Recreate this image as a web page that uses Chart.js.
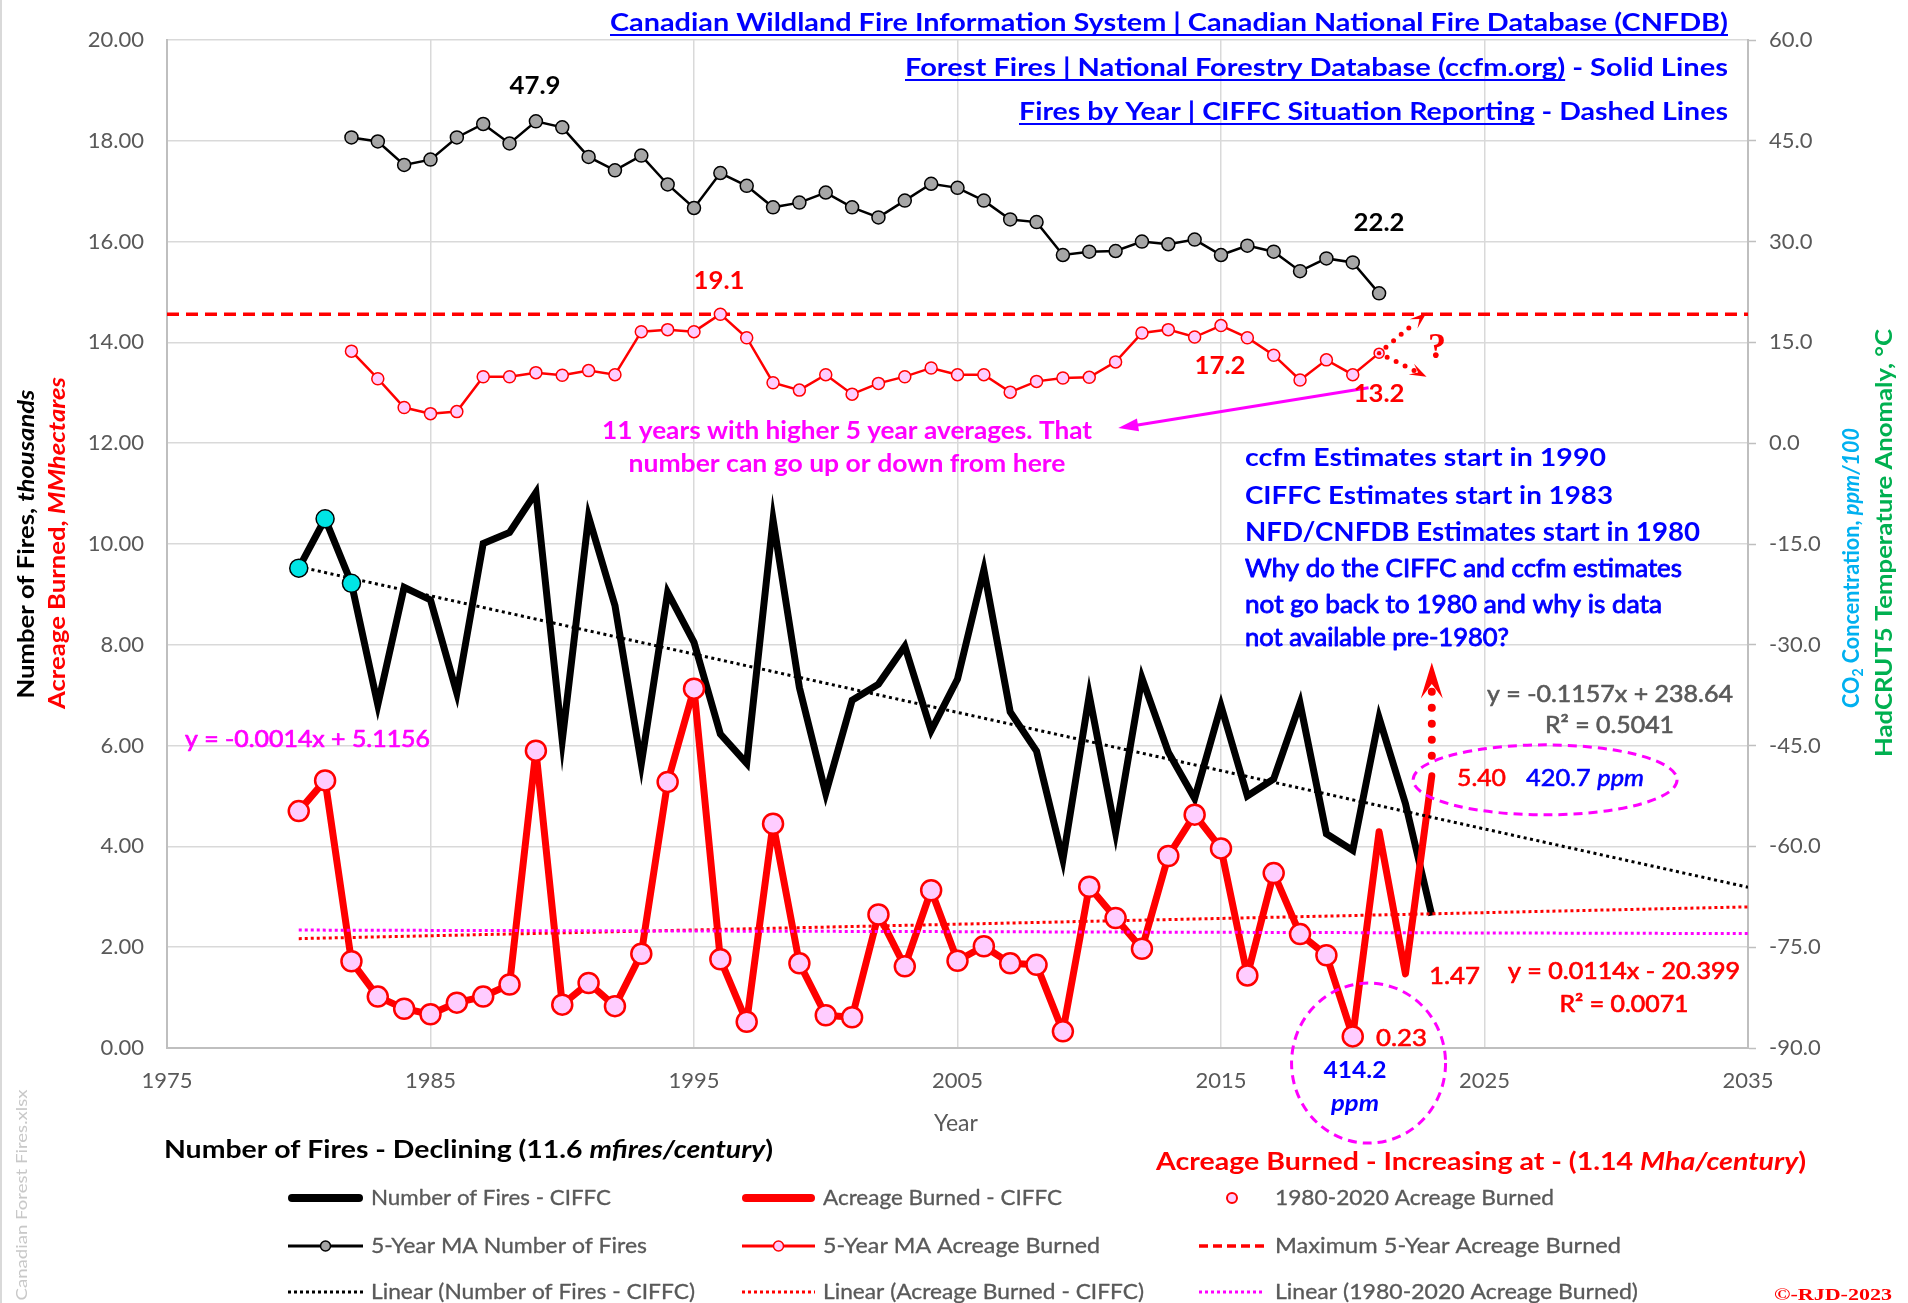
<!DOCTYPE html>
<html><head><meta charset="utf-8">
<script src="https://cdn.jsdelivr.net/npm/chart.js@4.4.0/dist/chart.umd.min.js"></script>
<style>html,body{margin:0;padding:0;background:#fff;overflow:hidden}canvas{display:block}</style>
</head><body>
<canvas id="c" width="1908" height="1303"></canvas>
<script>
// ---------------- DATA ----------------
const years = [1980,1981,1982,1983,1984,1985,1986,1987,1988,1989,1990,1991,1992,1993,1994,1995,1996,1997,1998,1999,2000,2001,2002,2003,2004,2005,2006,2007,2008,2009,2010,2011,2012,2013,2014,2015,2016,2017,2018,2019,2020,2021,2022,2023];
const firesCIFFC = [9.52,10.50,9.22,6.81,9.14,8.89,7.04,10.01,10.23,11.02,6.10,10.54,8.78,5.64,9.04,8.05,6.23,5.65,10.48,7.15,5.05,6.90,7.22,7.97,6.30,7.32,9.49,6.67,5.89,3.74,7.00,4.28,7.34,5.87,4.95,6.79,5.00,5.34,6.84,4.25,3.92,6.55,4.85,2.63];
const acreageCIFFC = [4.70,5.31,1.72,1.02,0.78,0.67,0.90,1.02,1.26,5.90,0.86,1.29,0.83,1.87,5.28,7.13,1.76,0.52,4.45,1.68,0.65,0.61,2.65,1.62,3.13,1.73,2.02,1.68,1.65,0.33,3.20,2.58,1.97,3.81,4.63,3.96,1.44,3.47,2.26,1.84,0.23,4.29,1.47,5.40];
const markerCount = 41; // 1980-2020 Acreage Burned markers
const maYears = [1982,1983,1984,1985,1986,1987,1988,1989,1990,1991,1992,1993,1994,1995,1996,1997,1998,1999,2000,2001,2002,2003,2004,2005,2006,2007,2008,2009,2010,2011,2012,2013,2014,2015,2016,2017,2018,2019,2020,2021];
const maFires = [45.5,44.9,41.4,42.2,45.5,47.5,44.6,47.9,47.0,42.6,40.6,42.8,38.5,35.0,40.2,38.3,35.1,35.8,37.3,35.1,33.6,36.1,38.6,38.0,36.1,33.3,32.9,28.0,28.5,28.6,30.0,29.6,30.3,28.0,29.4,28.5,25.6,27.5,26.9,22.3];
const maAcreage = [13.7,9.6,5.3,4.4,4.7,9.9,9.9,10.5,10.1,10.8,10.2,16.6,16.9,16.6,19.2,15.7,9.0,7.9,10.2,7.3,8.9,9.9,11.2,10.2,10.2,7.6,9.2,9.7,9.8,12.1,16.4,16.9,15.8,17.5,15.7,13.1,9.4,12.4,10.2,13.4];
const maxFiveYearYears = [1975, 2035];
const maxFiveYear = [19.2, 19.2];
const cyanYears = [1980,1981,1982];
const cyanValues = [9.52,10.50,9.22];
const trendYears = [1980, 2035];
const trendFires = [9.55, 3.19];
const trendAcreage = [2.17, 2.80];
const trend19802020 = [2.34, 2.27];
const xTickValues = [1975,1985,1995,2005,2015,2025,2035];
const leftTickValues = [0,2,4,6,8,10,12,14,16,18,20];
const rightTickValues = [-90,-75,-60,-45,-30,-15,0,15,30,45,60];

// annotation anchors in data coordinates
const redArrows = [
  {x1:2021, y1:13.4, x2:2022.8, y2:19.4, axis:'y2'},
  {x1:2021, y1:13.4, x2:2022.8, y2:9.9, axis:'y2'},
  {x1:2023, y1:5.4, x2:2023, y2:7.65, axis:'y'}
];
const magentaArrow = {x1:2020.6, y1:13.1, x2:2011.1, y2:12.3, axis:'y'};
const ellipses = [{x:2027.3, y:5.32}, {x:2020.6, y:-0.3}];

// ---------------- STYLE ----------------
const RED='#FF0000', PINK='#FFCCFF', MAG='#FF00FF', BLUE='#0000FF', GRAYT='#595959', GRID='#D9D9D9', AXIS='#BFBFBF';
const F = 'Lato, "Open Sans", sans-serif';
const xy = (xs, ys) => xs.map((x,i)=>({x, y: ys[i]}));

function runs(ctx, parts, x, y, opt={}) {
  ctx.save();
  const widths = parts.map(p=>{ctx.font=p[1]; return ctx.measureText(p[0]).width;});
  const total = widths.reduce((a,b)=>a+b,0);
  const s = opt.w ? opt.w/total : 1;
  const W = total*s;
  const x0 = opt.align==='right' ? -W : opt.align==='center' ? -W/2 : 0;
  ctx.translate(x, y);
  if (opt.rot) ctx.rotate(opt.rot);
  ctx.translate(x0, 0);
  ctx.scale(s, 1);
  ctx.textBaseline='middle'; ctx.textAlign='left';
  let cx = 0;
  parts.forEach((p,i)=>{
    const o = p[3]||{};
    ctx.font=p[1]; ctx.fillStyle=p[2];
    ctx.fillText(p[0], cx, o.dy||0);
    if (opt.sw) { ctx.lineWidth=opt.sw; ctx.strokeStyle=p[2]; ctx.lineJoin='round'; ctx.strokeText(p[0], cx, o.dy||0); }
    if (o.u) ctx.fillRect(cx, opt.uy||11, widths[i], 2);
    cx += widths[i];
  });
  ctx.restore();
}
function head(ctx, x1,y1,x2,y2,len,wid,notch,color){
  const a=Math.atan2(y2-y1,x2-x1);
  ctx.save(); ctx.translate(x2,y2); ctx.rotate(a);
  ctx.beginPath(); ctx.moveTo(0,0); ctx.lineTo(-len,-wid/2); ctx.lineTo(-len*notch,0); ctx.lineTo(-len,wid/2); ctx.closePath();
  ctx.fillStyle=color; ctx.fill(); ctx.restore();
}
function seg(ctx,x1,y1,x2,y2,color,w,dash,cap){
  ctx.save(); ctx.beginPath(); ctx.strokeStyle=color; ctx.lineWidth=w; ctx.setLineDash(dash||[]); ctx.lineCap=cap||'butt';
  ctx.moveTo(x1,y1); ctx.lineTo(x2,y2); ctx.stroke(); ctx.restore();
}
function mk(ctx,x,y,r,fill,stroke,lw){
  ctx.save(); ctx.beginPath(); ctx.arc(x,y,r,0,Math.PI*2); ctx.fillStyle=fill; ctx.fill(); ctx.lineWidth=lw; ctx.strokeStyle=stroke; ctx.stroke(); ctx.restore();
}

const annot = {
  id:'annot',
  afterDatasetsDraw(chart){
    const ctx=chart.ctx, X=chart.scales.x;
    // red dotted arrows
    redArrows.forEach(a=>{
      const Y=chart.scales[a.axis];
      let x1=X.getPixelForValue(a.x1), y1=Y.getPixelForValue(a.y1), x2=X.getPixelForValue(a.x2), y2=Y.getPixelForValue(a.y2);
      const d=Math.hypot(x2-x1,y2-y1), ux=(x2-x1)/d, uy=(y2-y1)/d;
      const vertical = Math.abs(ux)<0.1;
      const hl = vertical?36:17, hw = vertical?22:12;
      if (vertical) seg(ctx, x1+ux*20, y1+uy*20, x2-ux*hl*0.75, y2-uy*hl*0.75, RED, 8, [0,16], 'round');
      else seg(ctx, x1+ux*9, y1+uy*9, x2-ux*hl*0.8, y2-uy*hl*0.8, RED, 5, [0,10], 'round');
      head(ctx, x1,y1,x2,y2, hl, hw, vertical?0.6:0.55, RED);
    });
    // magenta arrow
    {
      const a=magentaArrow, Y=chart.scales[a.axis];
      const x1=X.getPixelForValue(a.x1), y1=Y.getPixelForValue(a.y1), x2=X.getPixelForValue(a.x2), y2=Y.getPixelForValue(a.y2);
      const d=Math.hypot(x2-x1,y2-y1), ux=(x2-x1)/d, uy=(y2-y1)/d;
      seg(ctx,x1,y1,x2-ux*12,y2-uy*12,MAG,3);
      head(ctx,x1,y1,x2,y2,20,13,1,MAG);
    }
    // dashed ellipses
    const Yl=chart.scales.y;
    const radii=[[132,35],[77,80]];
    ellipses.forEach((e,i)=>{
      ctx.save(); ctx.beginPath();
      ctx.ellipse(X.getPixelForValue(e.x), Yl.getPixelForValue(e.y), radii[i][0], radii[i][1], 0, 0, Math.PI*2);
      ctx.strokeStyle=MAG; ctx.lineWidth=3; ctx.setLineDash([9,6]); ctx.stroke(); ctx.restore();
    });
  },
  afterDraw(chart){
    const ctx=chart.ctx;
    // outer left border
    seg(ctx,1,0,1,1303,GRID,2);
    const B = s=>`bold ${s}px ${F}`, BI = s=>`italic bold ${s}px ${F}`, N = s=>`${s}px ${F}`, NI = s=>`italic ${s}px ${F}`;
    // titles
    runs(ctx,[["Canadian Wildland Fire Information System | Canadian National Fire Database (CNFDB)",B(25),BLUE,{u:1}]],1728,23,{align:'right',w:1118});
    runs(ctx,[["Forest Fires | National Forestry Database (ccfm.org)",B(25),BLUE,{u:1}],[" - Solid Lines",B(25),BLUE]],1728,68,{align:'right',w:823});
    runs(ctx,[["Fires by Year | CIFFC Situation Reporting",B(25),BLUE,{u:1}],[" - Dashed Lines",B(25),BLUE]],1728,112,{align:'right',w:709});
    // data labels
    runs(ctx,[["47.9",B(24),'#000']],535,86,{align:'center',w:51});
    runs(ctx,[["22.2",B(24),'#000']],1379,223,{align:'center',w:51});
    runs(ctx,[["19.1",B(24),RED]],719,281,{align:'center',w:51});
    runs(ctx,[["17.2",B(24),RED]],1220,366,{align:'center',w:51});
    runs(ctx,[["13.2",B(24),RED]],1379,394,{align:'center',w:51});
    runs(ctx,[["?",`bold 36px "Liberation Serif", serif`,RED]],1437,349,{align:'center'});
    // magenta note
    runs(ctx,[["11 years with higher 5 year averages. That",B(25),MAG]],847,431,{align:'center',w:490});
    runs(ctx,[["number can go up or down from here",B(25),MAG]],847,464,{align:'center',w:437});
    // blue block
    runs(ctx,[["ccfm Estimates start in 1990",B(25),BLUE]],1245,458,{w:361});
    runs(ctx,[["CIFFC Estimates start in 1983",B(25),BLUE]],1245,496,{w:368});
    runs(ctx,[["NFD/CNFDB Estimates start in 1980",B(26),BLUE]],1245,533,{w:455});
    runs(ctx,[["Why do the CIFFC and ccfm estimates",N(25),BLUE]],1245,569,{w:437,sw:0.9});
    runs(ctx,[["not go back to 1980 and why is data",N(25),BLUE]],1245,605,{w:417,sw:0.9});
    runs(ctx,[["not available pre-1980?",N(25),BLUE]],1245,638,{w:264,sw:0.9});
    // equations
    runs(ctx,[["y = -0.1157x + 238.64",N(23),GRAYT]],1733,695,{align:'right',w:246,sw:0.6});
    runs(ctx,[["R² = 0.5041",N(23),GRAYT]],1674,726,{align:'right',w:129,sw:0.6});
    runs(ctx,[["y = -0.0014x + 5.1156",N(23),MAG]],185,740,{w:245,sw:0.7});
    runs(ctx,[["5.40",N(23),RED]],1457,779,{w:49,sw:0.6});
    runs(ctx,[["420.7 ",N(23),BLUE],["ppm",NI(23),BLUE]],1526,779,{w:118,sw:0.6});
    runs(ctx,[["1.47",N(23),RED]],1429,977,{w:51,sw:0.6});
    runs(ctx,[["y = 0.0114x - 20.399",N(23),RED]],1624,972,{align:'center',w:232,sw:0.7});
    runs(ctx,[["R² = 0.0071",N(23),RED]],1624,1005,{align:'center',w:129,sw:0.7});
    runs(ctx,[["0.23",N(23),RED]],1376,1039,{w:51,sw:0.6});
    runs(ctx,[["414.2",B(23),BLUE]],1355,1071,{align:'center',w:63});
    runs(ctx,[["ppm",BI(22),BLUE]],1355,1104,{align:'center',w:48});
    // axis titles
    runs(ctx,[["Year",N(23),GRAYT]],956,1124,{align:'center'});
    runs(ctx,[["Number of Fires, ",B(23),'#000'],["thousands",BI(23),'#000']],27,544,{align:'center',w:309,rot:-Math.PI/2});
    runs(ctx,[["Acreage Burned, ",B(23),RED],["MMhectares",BI(23),RED]],58,543,{align:'center',w:332,rot:-Math.PI/2});
    runs(ctx,[["CO",B(23),'#00B0F0'],["2",B(15),'#00B0F0',{dy:6}],[" Concentration, ",B(23),'#00B0F0'],["ppm/100",BI(23),'#00B0F0']],1852,568,{align:'center',w:280,rot:-Math.PI/2});
    runs(ctx,[["HadCRUT5 Temperature Anomaly, °C",B(23),'#00B050']],1885,543,{align:'center',w:428,rot:-Math.PI/2});
    runs(ctx,[["Canadian Forest Fires.xlsx",N(15),'#C8C8C8']],22,1195,{align:'center',w:211,rot:-Math.PI/2});
    runs(ctx,[["©-RJD-2023",`bold 16px "Liberation Serif", serif`,RED]],1833,1296,{align:'center',w:118});
    // headings
    runs(ctx,[["Number of Fires - Declining (11.6 ",B(25),'#000'],["mfires/century",BI(25),'#000'],[")",B(25),'#000']],164,1150,{w:609});
    runs(ctx,[["Acreage Burned - Increasing at - (1.14 ",B(25),RED],["Mha/century",BI(25),RED],[")",B(25),RED]],1156,1162,{w:650});
    // legend
    const ry=[1198,1246,1292], sx=[[288,363],[742,815],[1199,1265]], tx=[371,823,1275];
    seg(ctx,sx[0][0]+4,ry[0],sx[0][1]-4,ry[0],'#000',8,[],'round');
    seg(ctx,sx[1][0]+4,ry[0],sx[1][1]-4,ry[0],RED,8,[],'round');
    mk(ctx,(sx[2][0]+sx[2][1])/2,ry[0],5,PINK,RED,2);
    seg(ctx,sx[0][0],ry[1],sx[0][1],ry[1],'#000',3);
    mk(ctx,(sx[0][0]+sx[0][1])/2,ry[1],5,'#A6A6A6','#000',1.5);
    seg(ctx,sx[1][0],ry[1],sx[1][1],ry[1],RED,3);
    mk(ctx,(sx[1][0]+sx[1][1])/2,ry[1],5,PINK,RED,1.5);
    seg(ctx,sx[2][0],ry[1],sx[2][1],ry[1],RED,3.5,[9,5]);
    seg(ctx,sx[0][0],ry[2],sx[0][1],ry[2],'#000',3,[3,3]);
    seg(ctx,sx[1][0],ry[2],sx[1][1],ry[2],RED,3,[3,3]);
    seg(ctx,sx[2][0],ry[2],sx[2][1],ry[2],MAG,3,[3,3]);
    const lt=[["Number of Fires - CIFFC",240],["Acreage Burned - CIFFC",239],["1980-2020 Acreage Burned",279],
              ["5-Year MA Number of Fires",276],["5-Year MA Acreage Burned",277],["Maximum 5-Year Acreage Burned",346],
              ["Linear (Number of Fires - CIFFC)",324],["Linear (Acreage Burned - CIFFC)",321],["Linear (1980-2020 Acreage Burned)",363]];
    lt.forEach((t,i)=>runs(ctx,[[t[0],N(21),GRAYT]],tx[i%3],ry[Math.floor(i/3)],{w:t[1],sw:0.3}));
  }
};

Chart.defaults.font.family = F;
const tickFont = {family:F, size:22};
new Chart(document.getElementById('c'), {
  type:'line',
  data:{datasets:[
    {label:'1980-2020 Acreage Burned', data: xy(years.slice(0,markerCount), acreageCIFFC.slice(0,markerCount)), showLine:false, pointRadius:10, pointBackgroundColor:PINK, pointBorderColor:RED, pointBorderWidth:2.5, yAxisID:'y', order:1},
    {label:'cyan', data: xy(cyanYears, cyanValues), showLine:false, pointRadius:9, pointBackgroundColor:'#00E5E5', pointBorderColor:'#000', pointBorderWidth:1.5, yAxisID:'y', order:2},
    {label:'MA last', data: xy(maYears.slice(-1), maAcreage.slice(-1)), showLine:false, pointRadius:2.2, pointBackgroundColor:RED, pointBorderWidth:0, yAxisID:'y2', order:0},
    {label:'Linear (1980-2020 Acreage Burned)', data: xy(trendYears, trend19802020), borderColor:MAG, borderWidth:3, borderDash:[3,3], pointRadius:0, yAxisID:'y', order:3},
    {label:'Linear (Acreage Burned - CIFFC)', data: xy(trendYears, trendAcreage), borderColor:RED, borderWidth:3, borderDash:[3,3], pointRadius:0, yAxisID:'y', order:4},
    {label:'Linear (Number of Fires - CIFFC)', data: xy(trendYears, trendFires), borderColor:'#000', borderWidth:3, borderDash:[3,3.5], pointRadius:0, yAxisID:'y', order:5},
    {label:'Acreage Burned - CIFFC', data: xy(years, acreageCIFFC), borderColor:RED, borderWidth:7, pointRadius:0, borderJoinStyle:'round', borderCapStyle:'round', yAxisID:'y', order:6},
    {label:'Number of Fires - CIFFC', data: xy(years, firesCIFFC), borderColor:'#000', borderWidth:7, pointRadius:0, borderJoinStyle:'miter', yAxisID:'y', order:7},
    {label:'5-Year MA Acreage Burned', data: xy(maYears, maAcreage), borderColor:RED, borderWidth:2.5, pointRadius:c=>c.dataIndex===maYears.length-1?5:6, pointBackgroundColor:PINK, pointBorderColor:RED, pointBorderWidth:1.5, yAxisID:'y2', order:8},
    {label:'5-Year MA Number of Fires', data: xy(maYears, maFires), borderColor:'#000', borderWidth:2.5, pointRadius:6.5, pointBackgroundColor:'#A6A6A6', pointBorderColor:'#000', pointBorderWidth:1.5, yAxisID:'y2', order:9},
    {label:'Maximum 5-Year Acreage Burned', data: xy(maxFiveYearYears, maxFiveYear), borderColor:RED, borderWidth:3.5, borderDash:[12,7], pointRadius:0, yAxisID:'y2', order:10}
  ]},
  options:{
    responsive:false, animation:false, devicePixelRatio:1,
    layout:{padding:{top:40,left:0,right:0,bottom:0}},
    plugins:{legend:{display:false}, tooltip:{enabled:false}},
    elements:{line:{tension:0}},
    scales:{
      x:{type:'linear', min:1975, max:2035,
         afterBuildTicks:s=>{s.ticks=xTickValues.map(v=>({value:v}));},
         ticks:{color:GRAYT, font:tickFont, padding:20, callback:v=>String(v)},
         grid:{color:GRID, lineWidth:1.5, drawTicks:false},
         border:{color:AXIS, width:2},
         afterFit:s=>{s.height=255;}},
      y:{position:'left', min:0, max:20,
         afterBuildTicks:s=>{s.ticks=leftTickValues.map(v=>({value:v}));},
         ticks:{color:GRAYT, font:tickFont, padding:23, callback:v=>Number(v).toFixed(2)},
         grid:{color:GRID, lineWidth:1.5, drawTicks:false},
         border:{color:AXIS, width:2},
         afterFit:s=>{s.width=167;}},
      y2:{position:'right', min:-90, max:60,
         afterBuildTicks:s=>{s.ticks=rightTickValues.map(v=>({value:v}));},
         ticks:{color:GRAYT, font:tickFont, padding:13, callback:v=>Number(v).toFixed(1)},
         grid:{drawOnChartArea:false, drawTicks:true, tickLength:8, tickColor:AXIS, tickWidth:1.5},
         border:{color:AXIS, width:2},
         afterFit:s=>{s.width=160;}}
    }
  },
  plugins:[annot]
});
</script>
</body></html>
